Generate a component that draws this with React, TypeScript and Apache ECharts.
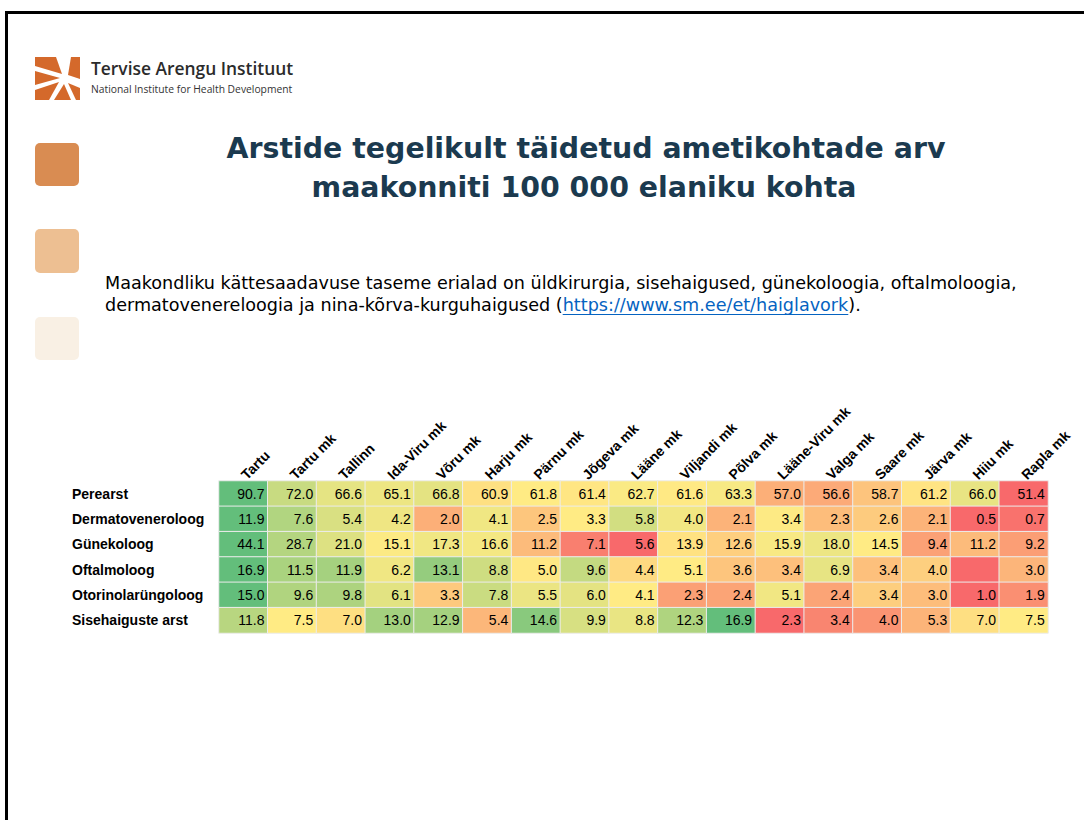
import React, { useEffect, useRef } from "react";
import * as echarts from "echarts";

const columns = [
  "Tartu", "Tartu mk", "Tallinn", "Ida-Viru mk", "Võru mk", "Harju mk", "Pärnu mk",
  "Jõgeva mk", "Lääne mk", "Viljandi mk", "Põlva mk", "Lääne-Viru mk", "Valga mk",
  "Saare mk", "Järva mk", "Hiiu mk", "Rapla mk",
];
const rows = ["Perearst", "Dermatoveneroloog", "Günekoloog", "Oftalmoloog", "Otorinolarüngoloog", "Sisehaiguste arst"];

const perearst = [90.7, 72.0, 66.6, 65.1, 66.8, 60.9, 61.8, 61.4, 62.7, 61.6, 63.3, 57.0, 56.6, 58.7, 61.2, 66.0, 51.4];
const dermatoveneroloog = [11.9, 7.6, 5.4, 4.2, 2.0, 4.1, 2.5, 3.3, 5.8, 4.0, 2.1, 3.4, 2.3, 2.6, 2.1, 0.5, 0.7];
const gunekoloog = [44.1, 28.7, 21.0, 15.1, 17.3, 16.6, 11.2, 7.1, 5.6, 13.9, 12.6, 15.9, 18.0, 14.5, 9.4, 11.2, 9.2];
const oftalmoloog = [16.9, 11.5, 11.9, 6.2, 13.1, 8.8, 5.0, 9.6, 4.4, 5.1, 3.6, 3.4, 6.9, 3.4, 4.0, null, 3.0];
const otorinolaryngoloog = [15.0, 9.6, 9.8, 6.1, 3.3, 7.8, 5.5, 6.0, 4.1, 2.3, 2.4, 5.1, 2.4, 3.4, 3.0, 1.0, 1.9];
const sisehaiguste = [11.8, 7.5, 7.0, 13.0, 12.9, 5.4, 14.6, 9.9, 8.8, 12.3, 16.9, 2.3, 3.4, 4.0, 5.3, 7.0, 7.5];

const rowValues: (number | null)[][] = [perearst, dermatoveneroloog, gunekoloog, oftalmoloog, otorinolaryngoloog, sisehaiguste];

const titleLines = ["Arstide tegelikult täidetud ametikohtade arv", "maakonniti 100 000 elaniku kohta"];
const bodyLine1 = "Maakondliku kättesaadavuse taseme erialad on üldkirurgia, sisehaigused, günekoloogia, oftalmoloogia,";
const bodyLine2a = "dermatovenereloogia ja nina-kõrva-kurguhaigused (";
const bodyLink = "https://www.sm.ee/et/haiglavork";
const bodyLine2b = ").";

// Excel-like 3-colour scale per row: min -> red, median -> yellow, max -> green
function rowScale(vals: (number | null)[]) {
  const v = vals.map((x) => (x == null ? 0 : x));
  const s = [...v].sort((a, b) => a - b);
  const n = s.length;
  const pos = (n - 1) * 0.5;
  const lo = Math.floor(pos);
  const mid = s[lo] + (s[Math.min(lo + 1, n - 1)] - s[lo]) * (pos - lo);
  const min = s[0];
  const max = s[n - 1];
  return v.map((x) =>
    x <= mid ? (mid === min ? 0.5 : 0.5 * (x - min) / (mid - min)) : 0.5 + 0.5 * (x - mid) / (max - mid)
  );
}

export default function App() {
  const ref = useRef<HTMLDivElement>(null);
  useEffect(() => {
    if (!ref.current) return;
    const chart = echarts.init(ref.current, null, { renderer: "svg" });

    const data: any[] = [];
    rowValues.forEach((vals, r) => {
      const t = rowScale(vals);
      vals.forEach((v, c) => data.push([c, r, t[c], v]));
    });

    const bodyFont = '17.6px "DejaVu Sans"';
    const ctx = document.createElement("canvas").getContext("2d")!;
    ctx.font = bodyFont;
    const w2a = ctx.measureText(bodyLine2a).width;
    const wLink = ctx.measureText(bodyLink).width;
    const bodyX = 105;
    const line2Y = 305;

    const orange = "#d4692b";
    const lx = 35, ly = 57;
    const logoPieces = [
      [[0, 0], [21, 0], [27, 17], [0, 9]],
      [[0, 14], [25, 21], [0, 28]],
      [[0, 33], [24, 25], [14, 43], [0, 43]],
      [[19, 43], [29, 27], [36, 43]],
      [[41, 43], [33, 26], [45, 31], [45, 43]],
      [[36, 0], [45, 0], [45, 22], [33, 18]],
    ].map((pts) => ({
      type: "polygon",
      shape: { points: pts.map(([x, y]) => [lx + x, ly + y]) },
      style: { fill: orange },
    }));

    chart.setOption({
      animation: false,
      backgroundColor: "#ffffff",
      grid: { left: 219, top: 481, width: 829, height: 152 },
      xAxis: {
        type: "category",
        data: columns,
        position: "top",
        axisLine: { show: false },
        axisTick: { show: false },
        splitLine: { show: false },
        axisLabel: {
          rotate: -45,
          margin: 4,
          interval: 0,
          fontFamily: "Arial, 'Liberation Sans'",
          fontWeight: "bold",
          fontSize: 14,
          color: "#000",
        },
      },
      yAxis: {
        type: "category",
        data: rows,
        inverse: true,
        axisLine: { show: false },
        axisTick: { show: false },
        splitLine: { show: false },
        axisLabel: {
          align: "left",
          margin: 147,
          fontFamily: "Arial, 'Liberation Sans'",
          fontWeight: "bold",
          fontSize: 14,
          color: "#000",
        },
      },
      visualMap: {
        show: false,
        type: "continuous",
        dimension: 2,
        min: 0,
        max: 1,
        inRange: { color: ["#f8696b", "#ffeb84", "#63be7b"] },
      },
      series: [
        {
          type: "heatmap",
          data,
          itemStyle: { borderColor: "#ececec", borderWidth: 1 },
          emphasis: { disabled: true },
          label: {
            show: true,
            position: "insideRight",
            distance: 4,
            fontFamily: "Arial, 'Liberation Sans'",
            fontSize: 14,
            color: "#000",
            formatter: (p: any) => (p.value[3] == null ? "" : Number(p.value[3]).toFixed(1)),
          },
        },
      ],
      graphic: [
        { type: "rect", shape: { x: 5, y: 11, width: 3, height: 809 }, style: { fill: "#000" } },
        { type: "rect", shape: { x: 5, y: 11, width: 1079, height: 3 }, style: { fill: "#000" } },
        ...logoPieces,
        {
          type: "text",
          x: 91,
          y: 68,
          style: {
            text: "Tervise Arengu Instituut",
            fontFamily: "'Open Sans'",
            fontWeight: 600,
            fontSize: 17.4,
            fill: "#2b2b2b",
            verticalAlign: "middle",
          },
        },
        {
          type: "text",
          x: 91,
          y: 89,
          style: {
            text: "National Institute for Health Development",
            fontFamily: "'Open Sans'",
            fontSize: 10.3,
            fill: "#333",
            verticalAlign: "middle",
          },
        },
        { type: "rect", shape: { x: 35, y: 143, width: 44, height: 43, r: 5 }, style: { fill: "#d98c52" } },
        { type: "rect", shape: { x: 35, y: 229, width: 44, height: 44, r: 5 }, style: { fill: "#edbf92" } },
        { type: "rect", shape: { x: 35, y: 317, width: 44, height: 43, r: 5 }, style: { fill: "#f9f0e4" } },
        {
          type: "text",
          x: 586,
          y: 148,
          style: {
            text: titleLines[0],
            fontFamily: "'DejaVu Sans'",
            fontWeight: "bold",
            fontSize: 28.4,
            fill: "#1b3a4f",
            align: "center",
            verticalAlign: "middle",
          },
        },
        {
          type: "text",
          x: 584,
          y: 187,
          style: {
            text: titleLines[1],
            fontFamily: "'DejaVu Sans'",
            fontWeight: "bold",
            fontSize: 28.4,
            fill: "#1b3a4f",
            align: "center",
            verticalAlign: "middle",
          },
        },
        {
          type: "text",
          x: bodyX,
          y: 283,
          style: { text: bodyLine1, font: bodyFont, fill: "#000", verticalAlign: "middle" },
        },
        {
          type: "text",
          x: bodyX,
          y: line2Y,
          style: { text: bodyLine2a, font: bodyFont, fill: "#000", verticalAlign: "middle" },
        },
        {
          type: "text",
          x: bodyX + w2a,
          y: line2Y,
          style: { text: bodyLink, font: bodyFont, fill: "#0563c1", verticalAlign: "middle" },
        },
        {
          type: "rect",
          shape: { x: bodyX + w2a, y: line2Y + 9, width: wLink, height: 1 },
          style: { fill: "#0563c1" },
        },
        {
          type: "text",
          x: bodyX + w2a + wLink,
          y: line2Y,
          style: { text: bodyLine2b, font: bodyFont, fill: "#000", verticalAlign: "middle" },
        },
      ],
    });
    return () => chart.dispose();
  }, []);
  return (
    <div
      ref={ref}
      style={{ position: "absolute", left: 0, top: 0, width: 1084, height: 820, background: "#fff" }}
    />
  );
}
